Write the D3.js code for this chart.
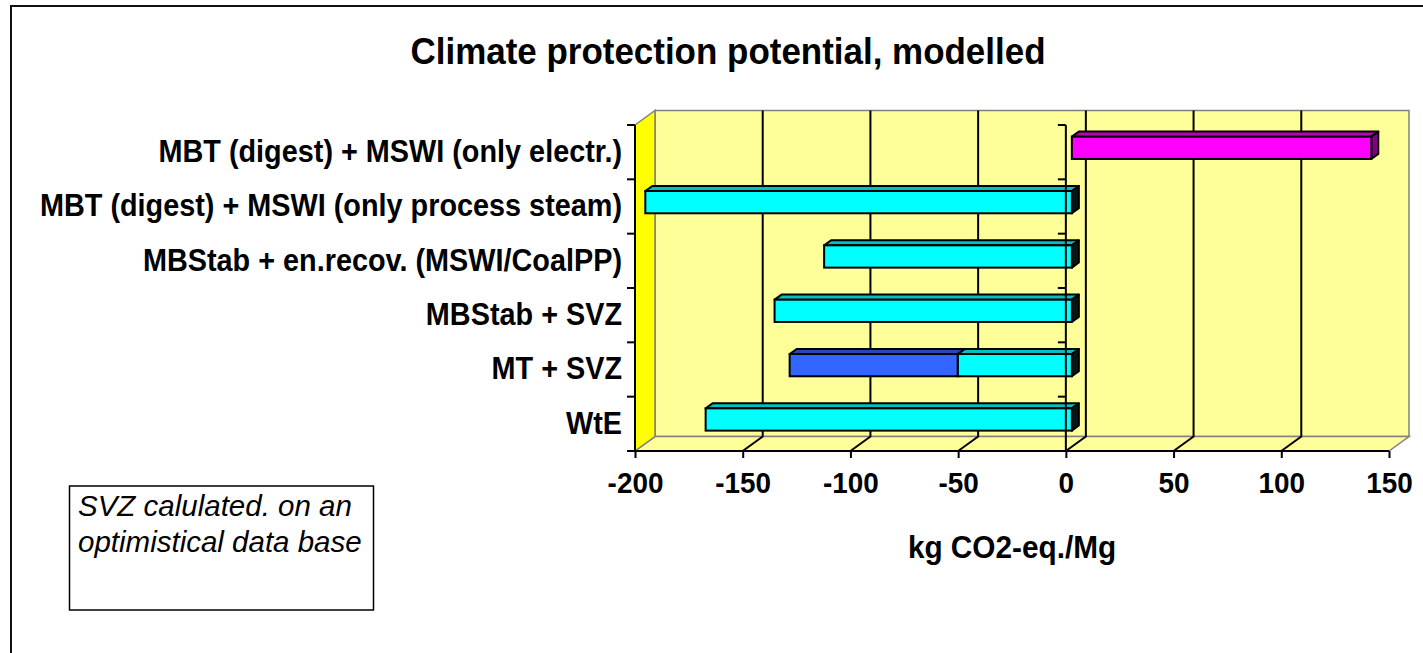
<!DOCTYPE html>
<html>
<head>
<meta charset="utf-8">
<script src="https://cdn.jsdelivr.net/npm/d3@7"></script>
<style>
  body { margin: 0; background: #fff; }
  text { font-family: "Liberation Sans", Arial, sans-serif; }
</style>
</head>
<body>
<div class="chart"></div>
<script>
// Data
var categories = [
  "MBT (digest) + MSWI (only electr.)",
  "MBT (digest) + MSWI (only process steam)",
  "MBStab + en.recov. (MSWI/CoalPP)",
  "MBStab + SVZ",
  "MT + SVZ",
  "WtE"
];
var cyanValues = [0, -198, -115, -138, -53, -170];
var blueValues = [0, 0, 0, 0, -78, 0];
var magentaValues = [139, 0, 0, 0, 0, 0];
var tickValues = [-200, -150, -100, -50, 0, 50, 100, 150];

var svgWidth = 1423;
var svgHeight = 653;

// front plane of the plot
var plot = {left: 635, right: 1389, top: 125, bottom: 451};
// depth of the 3d box (offset of the back wall)
var depthX = 20, depthY = -14.5;
// the chart font is a bit narrower than Arial
var squeeze = 0.93;

var svg = d3.select(".chart")
  .append("svg")
  .attr("width", svgWidth)
  .attr("height", svgHeight);

// outer frame
svg.append("rect")
  .attr("x", 11).attr("y", 6)
  .attr("width", 1440).attr("height", 700)
  .attr("fill", "none").attr("stroke", "#111").attr("stroke-width", 2);

var xScale = d3.scaleLinear().domain([-200, 150]).range([plot.left, plot.right]);
var yScale = d3.scaleBand().domain(categories).range([plot.top, plot.bottom]);

function depth(f) { return {dx: depthX * f, dy: depthY * f}; }

// walls
var back = depth(1);
svg.append("rect")
  .attr("x", plot.left + back.dx).attr("y", plot.top + back.dy)
  .attr("width", plot.right - plot.left).attr("height", plot.bottom - plot.top)
  .attr("fill", "#FFFF99").attr("stroke", "#808080").attr("stroke-width", 1.5);

svg.append("polygon")
  .attr("points", [
    [plot.left, plot.bottom], [plot.left + back.dx, plot.bottom + back.dy],
    [plot.right + back.dx, plot.bottom + back.dy], [plot.right, plot.bottom]
  ].join(" "))
  .attr("fill", "#FFFF99").attr("stroke", "#808080").attr("stroke-width", 1.5);

svg.append("polygon")
  .attr("points", [
    [plot.left, plot.top], [plot.left + back.dx, plot.top + back.dy],
    [plot.left + back.dx, plot.bottom + back.dy], [plot.left, plot.bottom]
  ].join(" "))
  .attr("fill", "#FFFF00").attr("stroke", "#808080").attr("stroke-width", 1.5);

// gridlines on back wall and floor
var inner = tickValues.slice(1, -1);
svg.selectAll(".grid")
  .data(inner)
  .enter().append("path")
  .attr("class", "grid")
  .attr("fill", "none").attr("stroke", "#000").attr("stroke-width", 2)
  .attr("d", function(v) {
    var x = xScale(v);
    return "M" + (x + back.dx) + "," + (plot.top + back.dy) +
      "V" + (plot.bottom + back.dy) + "L" + x + "," + plot.bottom;
  });

// bars
var barFront = depth(0.3), barBack = depth(0.65);
var bdx = barBack.dx - barFront.dx, bdy = barBack.dy - barFront.dy;
var barH = yScale.bandwidth() * 0.41;

var segments = [];
categories.forEach(function(c, i) {
  var pos = 0, neg = 0;
  if (cyanValues[i] !== 0) { segments.push({cat: c, v0: cyanValues[i], v1: 0, front: "#00FFFF", top: "#00C0C0", side: "#001818", end: true}); neg = cyanValues[i]; }
  if (blueValues[i] !== 0) { segments.push({cat: c, v0: neg + blueValues[i], v1: neg, front: "#3366FF", top: "#2647B8", side: "#1a3380", end: neg === 0}); }
  if (magentaValues[i] !== 0) { segments.push({cat: c, v0: pos, v1: pos + magentaValues[i], front: "#FF00FF", top: "#B800B8", side: "#800080", end: true}); }
});

var bars = svg.selectAll(".bar")
  .data(segments)
  .enter().append("g")
  .attr("class", "bar");

bars.each(function(d) {
  var g = d3.select(this);
  var x0 = xScale(d.v0) + barFront.dx, x1 = xScale(d.v1) + barFront.dx;
  var yc = yScale(d.cat) + yScale.bandwidth() / 2 + barFront.dy;
  var yt = yc - barH / 2, yb = yc + barH / 2;
  g.append("polygon")
    .attr("points", [[x0, yt], [x1, yt], [x1 + bdx, yt + bdy], [x0 + bdx, yt + bdy]].join(" "))
    .attr("fill", d.top).attr("stroke", "#000").attr("stroke-width", 2).attr("stroke-linejoin", "round");
  if (d.end) {
    g.append("polygon")
      .attr("points", [[x1, yt], [x1 + bdx, yt + bdy], [x1 + bdx, yb + bdy], [x1, yb]].join(" "))
      .attr("fill", d.side).attr("stroke", "#000").attr("stroke-width", 2).attr("stroke-linejoin", "round");
  }
  g.append("rect")
    .attr("x", x0).attr("y", yt)
    .attr("width", x1 - x0).attr("height", barH)
    .attr("fill", d.front).attr("stroke", "#000").attr("stroke-width", 2);
});

// category axis lines (left edge and at zero)
var edges = categories.map(function(c) { return yScale(c); }).concat([plot.bottom]);
[plot.left, xScale(0)].forEach(function(ax) {
  svg.append("line")
    .attr("x1", ax).attr("x2", ax).attr("y1", plot.top).attr("y2", plot.bottom)
    .attr("stroke", "#000").attr("stroke-width", 2);
  svg.selectAll(null)
    .data(edges)
    .enter().append("line")
    .attr("x1", ax - 8).attr("x2", ax)
    .attr("y1", function(y) { return y; }).attr("y2", function(y) { return y; })
    .attr("stroke", "#000").attr("stroke-width", 2);
});

// category labels
var leftAxis = d3.axisLeft(yScale).tickSize(0).tickPadding(13);
var gy = svg.append("g")
  .attr("transform", "translate(" + plot.left + ",0)")
  .call(leftAxis);
gy.select(".domain").remove();
gy.selectAll("text")
  .attr("x", -13 / squeeze)
  .attr("transform", "scale(" + squeeze + ",1)")
  .attr("font-size", 31).attr("font-weight", "bold").attr("fill", "#000")
  .style("font-family", "'Liberation Sans', Arial, sans-serif");

// value axis
var bottomAxis = d3.axisBottom(xScale)
  .tickValues(tickValues)
  .tickFormat(function(d) { return String(d); })
  .tickSize(7).tickPadding(14);
var gx = svg.append("g")
  .attr("transform", "translate(0," + plot.bottom + ")")
  .call(bottomAxis);
gx.select(".domain").attr("stroke", "#000").attr("stroke-width", 2).attr("d", "M" + plot.left + ",0H" + plot.right);
gx.selectAll(".tick line").attr("stroke", "#000").attr("stroke-width", 2);
gx.selectAll("text")
  .attr("transform", "scale(" + squeeze + ",1)")
  .attr("font-size", 30).attr("font-weight", "bold").attr("fill", "#000")
  .style("font-family", "'Liberation Sans', Arial, sans-serif");

// titles
svg.append("text")
  .attr("transform", "translate(728,64) scale(0.945,1)")
  .attr("text-anchor", "middle")
  .attr("font-size", 37).attr("font-weight", "bold")
  .text("Climate protection potential, modelled");

svg.append("text")
  .attr("transform", "translate(1012,558) scale(0.96,1)")
  .attr("text-anchor", "middle")
  .attr("font-size", 31).attr("font-weight", "bold")
  .text("kg CO2-eq./Mg");

// note box
svg.append("rect")
  .attr("x", 69.5).attr("y", 486)
  .attr("width", 304).attr("height", 124)
  .attr("fill", "#fff").attr("stroke", "#000").attr("stroke-width", 1.5);
svg.append("text")
  .attr("x", 78).attr("y", 516)
  .attr("font-size", 29.5).attr("font-style", "italic")
  .text("SVZ calulated. on an");
svg.append("text")
  .attr("x", 78).attr("y", 552)
  .attr("font-size", 29.5).attr("font-style", "italic")
  .text("optimistical data base");
</script>
</body>
</html>
